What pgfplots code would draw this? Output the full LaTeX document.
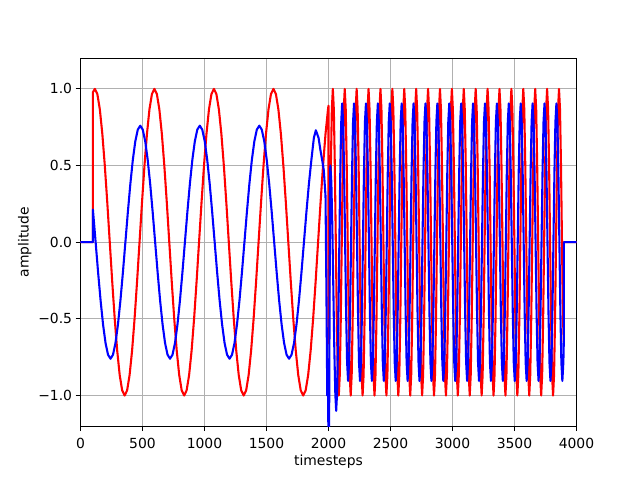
\documentclass[border=0pt]{standalone}
\usepackage{fontspec}
\setmainfont{DejaVu Sans}
\usepackage{pgfplots}
\pgfplotsset{compat=1.18}
\definecolor{gridgray}{RGB}{176,176,176}
\begin{document}
\begin{tikzpicture}[x=1pt,y=1pt]
\useasboundingbox (0,0) rectangle (640,480);
\begin{axis}[
  at={(80.5pt,53.8pt)}, anchor=south west,
  scale only axis, width=496pt, height=368pt,
  xmin=0, xmax=4000, ymin=-1.2, ymax=1.2,
  xtick={0,500,1000,1500,2000,2500,3000,3500,4000},
  xticklabels={0,500,1000,1500,2000,2500,3000,3500,4000},
  ytick={-1,-0.5,0,0.5,1},
  yticklabels={−1.0,−0.5,0.0,0.5,1.0},
  xtick pos=left, ytick pos=left,
  tick align=outside,
  major tick length=4.9pt,
  major tick style={black, line width=1.1pt},
  axis line style={line width=1.1pt},
  xmajorgrids=true, ymajorgrids=true,
  major grid style={gridgray, line width=1.1pt},
  /pgf/number format/assume math mode=true,
  tick label style={font=\fontsize{13.9}{16}\selectfont},
  xticklabel style={inner sep=0pt, yshift=-7.3pt},
  every axis x label/.style={at={(axis description cs:0.5,-0.106)}, anchor=base, inner sep=0pt, font=\fontsize{13.9}{16}\selectfont},
  every axis y label/.style={at={(axis description cs:-0.1048,0.5)}, rotate=90, anchor=base, inner sep=0pt, font=\fontsize{13.9}{16}\selectfont},
  xlabel={timesteps},
  ylabel={amplitude},
]
\addplot[red, line width=2.08pt, line join=round] coordinates {
(0,0)(100,0)(100,0.978)
(116,1)(136,0.966)(156,0.866)(176,0.707)(196,0.5)(216,0.259)(236,0)(256,-0.259)(276,-0.5)(296,-0.707)(316,-0.866)(336,-0.966)(356,-1)(376,-0.966)(396,-0.866)(416,-0.707)(436,-0.5)(456,-0.259)(476,0)(496,0.259)(516,0.5)(536,0.707)(556,0.866)(576,0.966)
(596,1)(616,0.966)(636,0.866)(656,0.707)(676,0.5)(696,0.259)(716,0)(736,-0.259)(756,-0.5)(776,-0.707)(796,-0.866)(816,-0.966)(836,-1)(856,-0.966)(876,-0.866)(896,-0.707)(916,-0.5)(936,-0.259)(956,0)(976,0.259)(996,0.5)(1016,0.707)(1036,0.866)(1056,0.966)
(1076,1)(1096,0.966)(1116,0.866)(1136,0.707)(1156,0.5)(1176,0.259)(1196,0)(1216,-0.259)(1236,-0.5)(1256,-0.707)(1276,-0.866)(1296,-0.966)(1316,-1)(1336,-0.966)(1356,-0.866)(1376,-0.707)(1396,-0.5)(1416,-0.259)(1436,0)(1456,0.259)(1476,0.5)(1496,0.707)(1516,0.866)(1536,0.966)
(1556,1)(1576,0.966)(1596,0.866)(1616,0.707)(1636,0.5)(1656,0.259)(1676,0)(1696,-0.259)(1716,-0.5)(1736,-0.707)(1756,-0.866)(1776,-0.966)(1796,-1)(1816,-0.966)(1836,-0.866)(1856,-0.707)(1876,-0.5)(1896,-0.259)(1916,0)(1936,0.259)(1956,0.5)(1976,0.707)(1996,0.866)
(2000,0.89)(2000,-0.66)(2003,-0.5)(2011,0)(2019,0.5)(2027,0.866)
(2035,1)(2043,0.866)(2051,0.5)(2059,0)(2067,-0.5)(2075,-0.866)(2083,-1)(2091,-0.866)(2099,-0.5)(2107,0)(2115,0.5)(2123,0.866)
(2131,1)(2139,0.866)(2147,0.5)(2155,0)(2163,-0.5)(2171,-0.866)(2179,-1)(2187,-0.866)(2195,-0.5)(2203,0)(2211,0.5)(2219,0.866)
(2227,1)(2235,0.866)(2243,0.5)(2251,0)(2259,-0.5)(2267,-0.866)(2275,-1)(2283,-0.866)(2291,-0.5)(2299,0)(2307,0.5)(2315,0.866)
(2323,1)(2331,0.866)(2339,0.5)(2347,0)(2355,-0.5)(2363,-0.866)(2371,-1)(2379,-0.866)(2387,-0.5)(2395,0)(2403,0.5)(2411,0.866)
(2419,1)(2427,0.866)(2435,0.5)(2443,0)(2451,-0.5)(2459,-0.866)(2467,-1)(2475,-0.866)(2483,-0.5)(2491,0)(2499,0.5)(2507,0.866)
(2515,1)(2523,0.866)(2531,0.5)(2539,0)(2547,-0.5)(2555,-0.866)(2563,-1)(2571,-0.866)(2579,-0.5)(2587,0)(2595,0.5)(2603,0.866)
(2611,1)(2619,0.866)(2627,0.5)(2635,0)(2643,-0.5)(2651,-0.866)(2659,-1)(2667,-0.866)(2675,-0.5)(2683,0)(2691,0.5)(2699,0.866)
(2707,1)(2715,0.866)(2723,0.5)(2731,0)(2739,-0.5)(2747,-0.866)(2755,-1)(2763,-0.866)(2771,-0.5)(2779,0)(2787,0.5)(2795,0.866)
(2803,1)(2811,0.866)(2819,0.5)(2827,0)(2835,-0.5)(2843,-0.866)(2851,-1)(2859,-0.866)(2867,-0.5)(2875,0)(2883,0.5)(2891,0.866)
(2899,1)(2907,0.866)(2915,0.5)(2923,0)(2931,-0.5)(2939,-0.866)(2947,-1)(2955,-0.866)(2963,-0.5)(2971,0)(2979,0.5)(2987,0.866)
(2995,1)(3003,0.866)(3011,0.5)(3019,0)(3027,-0.5)(3035,-0.866)(3043,-1)(3051,-0.866)(3059,-0.5)(3067,0)(3075,0.5)(3083,0.866)
(3091,1)(3099,0.866)(3107,0.5)(3115,0)(3123,-0.5)(3131,-0.866)(3139,-1)(3147,-0.866)(3155,-0.5)(3163,0)(3171,0.5)(3179,0.866)
(3187,1)(3195,0.866)(3203,0.5)(3211,0)(3219,-0.5)(3227,-0.866)(3235,-1)(3243,-0.866)(3251,-0.5)(3259,0)(3267,0.5)(3275,0.866)
(3283,1)(3291,0.866)(3299,0.5)(3307,0)(3315,-0.5)(3323,-0.866)(3331,-1)(3339,-0.866)(3347,-0.5)(3355,0)(3363,0.5)(3371,0.866)
(3379,1)(3387,0.866)(3395,0.5)(3403,0)(3411,-0.5)(3419,-0.866)(3427,-1)(3435,-0.866)(3443,-0.5)(3451,0)(3459,0.5)(3467,0.866)
(3475,1)(3483,0.866)(3491,0.5)(3499,0)(3507,-0.5)(3515,-0.866)(3523,-1)(3531,-0.866)(3539,-0.5)(3547,0)(3555,0.5)(3563,0.866)
(3571,1)(3579,0.866)(3587,0.5)(3595,0)(3603,-0.5)(3611,-0.866)(3619,-1)(3627,-0.866)(3635,-0.5)(3643,0)(3651,0.5)(3659,0.866)
(3667,1)(3675,0.866)(3683,0.5)(3691,0)(3699,-0.5)(3707,-0.866)(3715,-1)(3723,-0.866)(3731,-0.5)(3739,0)(3747,0.5)(3755,0.866)
(3763,1)(3771,0.866)(3779,0.5)(3787,0)(3795,-0.5)(3803,-0.866)(3811,-1)(3819,-0.866)(3827,-0.5)(3835,0)(3843,0.5)(3851,0.866)
(3859,1)(3867,0.866)(3875,0.5)(3883,0)(3891,-0.5)(3898,-0.66)(3898,0)(4000,0)
};
\addplot[blue, line width=2.08pt, line join=round] coordinates {
(0,0)(100,0)(100,0.213)(122,0)(142,-0.197)(162,-0.38)(182,-0.537)(202,-0.658)(222,-0.734)
(242,-0.76)(262,-0.734)(282,-0.658)(302,-0.537)(322,-0.38)(342,-0.197)(362,0)(382,0.197)(402,0.38)(422,0.537)(442,0.658)(462,0.734)(482,0.76)(502,0.734)(522,0.658)(542,0.537)(562,0.38)(582,0.197)(602,0)(622,-0.197)(642,-0.38)(662,-0.537)(682,-0.658)(702,-0.734)
(722,-0.76)(742,-0.734)(762,-0.658)(782,-0.537)(802,-0.38)(822,-0.197)(842,0)(862,0.197)(882,0.38)(902,0.537)(922,0.658)(942,0.734)(962,0.76)(982,0.734)(1002,0.658)(1022,0.537)(1042,0.38)(1062,0.197)(1082,0)(1102,-0.197)(1122,-0.38)(1142,-0.537)(1162,-0.658)(1182,-0.734)
(1202,-0.76)(1222,-0.734)(1242,-0.658)(1262,-0.537)(1282,-0.38)(1302,-0.197)(1322,0)(1342,0.197)(1362,0.38)(1382,0.537)(1402,0.658)(1422,0.734)(1442,0.76)(1462,0.734)(1482,0.658)(1502,0.537)(1522,0.38)(1542,0.197)(1562,0)(1582,-0.197)(1602,-0.38)(1622,-0.537)(1642,-0.658)(1662,-0.734)
(1682,-0.76)(1702,-0.734)(1722,-0.658)(1742,-0.537)(1762,-0.38)(1782,-0.197)(1802,0)(1822,0.197)(1842,0.38)(1862,0.537)(1882,0.68)(1898,0.73)(1920,0.68)(1935,0.6)(1950,0.53)(1962,0.47)(1976,0.3)(1983,-0.3)(1990,-1.0)(1997,-1.0)(2000,-1.4)(2004,-1.4)(2013,0.45)(2015,0.5)(2023,0.39)(2031,0.1)(2039,-0.3)(2047,-0.7)(2055,-0.99)(2062,-1.1)(2070,-0.97)(2078,-0.6)(2086,-0.1)(2094,0.4)(2102,0.77)
(2110,0.905)(2118,0.784)(2126,0.453)(2134,0)(2142,-0.453)(2150,-0.784)(2158,-0.905)(2166,-0.784)(2174,-0.453)(2182,0)(2190,0.453)(2198,0.784)
(2206,0.905)(2214,0.784)(2222,0.453)(2230,0)(2238,-0.453)(2246,-0.784)(2254,-0.905)(2262,-0.784)(2270,-0.453)(2278,0)(2286,0.453)(2294,0.784)
(2302,0.905)(2310,0.784)(2318,0.453)(2326,0)(2334,-0.453)(2342,-0.784)(2350,-0.905)(2358,-0.784)(2366,-0.453)(2374,0)(2382,0.453)(2390,0.784)
(2398,0.905)(2406,0.784)(2414,0.453)(2422,0)(2430,-0.453)(2438,-0.784)(2446,-0.905)(2454,-0.784)(2462,-0.453)(2470,0)(2478,0.453)(2486,0.784)
(2494,0.905)(2502,0.784)(2510,0.453)(2518,0)(2526,-0.453)(2534,-0.784)(2542,-0.905)(2550,-0.784)(2558,-0.453)(2566,0)(2574,0.453)(2582,0.784)
(2590,0.905)(2598,0.784)(2606,0.453)(2614,0)(2622,-0.453)(2630,-0.784)(2638,-0.905)(2646,-0.784)(2654,-0.453)(2662,0)(2670,0.453)(2678,0.784)
(2686,0.905)(2694,0.784)(2702,0.453)(2710,0)(2718,-0.453)(2726,-0.784)(2734,-0.905)(2742,-0.784)(2750,-0.453)(2758,0)(2766,0.453)(2774,0.784)
(2782,0.905)(2790,0.784)(2798,0.453)(2806,0)(2814,-0.453)(2822,-0.784)(2830,-0.905)(2838,-0.784)(2846,-0.453)(2854,0)(2862,0.453)(2870,0.784)
(2878,0.905)(2886,0.784)(2894,0.453)(2902,0)(2910,-0.453)(2918,-0.784)(2926,-0.905)(2934,-0.784)(2942,-0.453)(2950,0)(2958,0.453)(2966,0.784)
(2974,0.905)(2982,0.784)(2990,0.453)(2998,0)(3006,-0.453)(3014,-0.784)(3022,-0.905)(3030,-0.784)(3038,-0.453)(3046,0)(3054,0.453)(3062,0.784)
(3070,0.905)(3078,0.784)(3086,0.453)(3094,0)(3102,-0.453)(3110,-0.784)(3118,-0.905)(3126,-0.784)(3134,-0.453)(3142,0)(3150,0.453)(3158,0.784)
(3166,0.905)(3174,0.784)(3182,0.453)(3190,0)(3198,-0.453)(3206,-0.784)(3214,-0.905)(3222,-0.784)(3230,-0.453)(3238,0)(3246,0.453)(3254,0.784)
(3262,0.905)(3270,0.784)(3278,0.453)(3286,0)(3294,-0.453)(3302,-0.784)(3310,-0.905)(3318,-0.784)(3326,-0.453)(3334,0)(3342,0.453)(3350,0.784)
(3358,0.905)(3366,0.784)(3374,0.453)(3382,0)(3390,-0.453)(3398,-0.784)(3406,-0.905)(3414,-0.784)(3422,-0.453)(3430,0)(3438,0.453)(3446,0.784)
(3454,0.905)(3462,0.784)(3470,0.453)(3478,0)(3486,-0.453)(3494,-0.784)(3502,-0.905)(3510,-0.784)(3518,-0.453)(3526,0)(3534,0.453)(3542,0.784)
(3550,0.905)(3558,0.784)(3566,0.453)(3574,0)(3582,-0.453)(3590,-0.784)(3598,-0.905)(3606,-0.784)(3614,-0.453)(3622,0)(3630,0.453)(3638,0.784)
(3646,0.905)(3654,0.784)(3662,0.453)(3670,0)(3678,-0.453)(3686,-0.784)(3694,-0.905)(3702,-0.784)(3710,-0.453)(3718,0)(3726,0.453)(3734,0.784)
(3742,0.905)(3750,0.784)(3758,0.453)(3766,0)(3774,-0.453)(3782,-0.784)(3790,-0.905)(3798,-0.784)(3806,-0.453)(3814,0)(3822,0.453)(3830,0.784)
(3838,0.905)(3846,0.784)(3854,0.453)(3862,0)(3870,-0.453)(3878,-0.784)(3886,-0.905)(3894,-0.784)(3898,-0.64)(3898,0)(4000,0)
};
\end{axis}
\end{tikzpicture}
\end{document}
